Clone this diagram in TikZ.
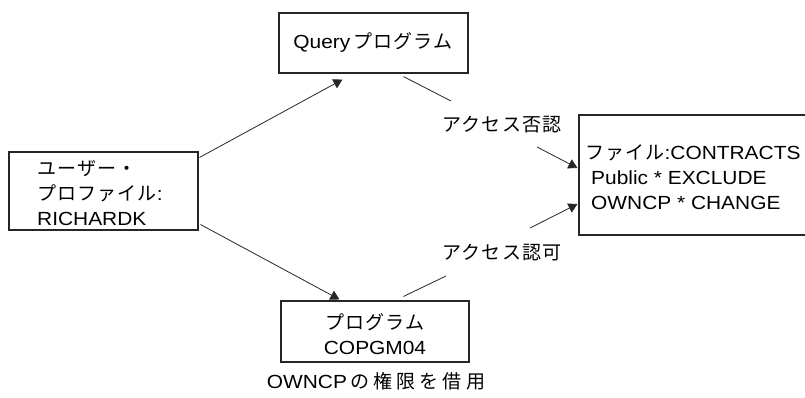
\documentclass[tikz,border=0pt]{standalone}
\usepackage{fontspec}
\setmainfont{Liberation Sans}[FakeStretch=1.1]
\newfontfamily\jp{Noto Sans CJK JP}[LetterSpace=6]
\newfontfamily\jpw{Noto Sans CJK JP}[LetterSpace=22]
\usetikzlibrary{arrows.meta,calc}
\begin{document}
\begin{tikzpicture}[x=1pt,y=-1pt,
  box/.style={draw=black!85,line width=1.1pt,rectangle,inner sep=0pt},
  txt/.style={font=\fontsize{19}{25}\selectfont,inner sep=0pt},
  ln/.style={draw=black!85,line width=0.8pt},
  arr/.style={ln,-{Triangle[length=9pt,width=10pt]}}]
\useasboundingbox (0,0) rectangle (805,397);
% boxes
\node[box,minimum width=189pt,minimum height=78pt] (user) at (103.5,191) {};
\node[box,minimum width=189pt,minimum height=60pt] (query) at (373.5,43) {};
\node[box,minimum width=236pt,minimum height=120pt] (file) at (697,175) {};
\node[box,minimum width=188pt,minimum height=61pt] (prog) at (375,331.5) {};
% texts
\node[txt,align=left,anchor=west] (usert) at (37,193) {{\jp ユーザー・}\\{\jp プロファイル}:\\RICHARDK};
\node[txt] (queryt) at (373,42) {Query\,{\jp プログラム}};
\node[txt,align=left,anchor=west] (filet) at (585,177) {{\jp ファイル}:CONTRACTS\\\hspace{6pt}Public * EXCLUDE\\\hspace{6pt}OWNCP * CHANGE};
\node[txt,align=center] (progt) at (375,334) {{\jp プログラム}\\COPGM04};
\node[txt] (deny) at (502,125) {\jp アクセス否認};
\node[txt] (allow) at (502,253) {\jp アクセス認可};
\node[txt] (cap) at (376,381) {OWNCP\,{\jpw の権限を借用}};
% connectors
\draw[arr] ($(user.north east)+(1,6)$) -- ($(query.south west)+(64,6)$);
\draw[arr] ($(user.south east)+(2,-6)$) -- ($(prog.north west)+(59,-1)$);
\coordinate (d1) at (451,101);
\coordinate (d2) at (537,147);
\draw[ln] ($(query.south west)+(125,3)$) -- (d1);
\draw[arr] (d2) -- ($(file.west)+(-1,-7)$);
\coordinate (a1) at (446,276);
\coordinate (a2) at (530,228);
\draw[ln] ($(prog.north west)+(123,-4)$) -- (a1);
\draw[arr] (a2) -- ($(file.west)+(-1,29)$);
\end{tikzpicture}
\end{document}
